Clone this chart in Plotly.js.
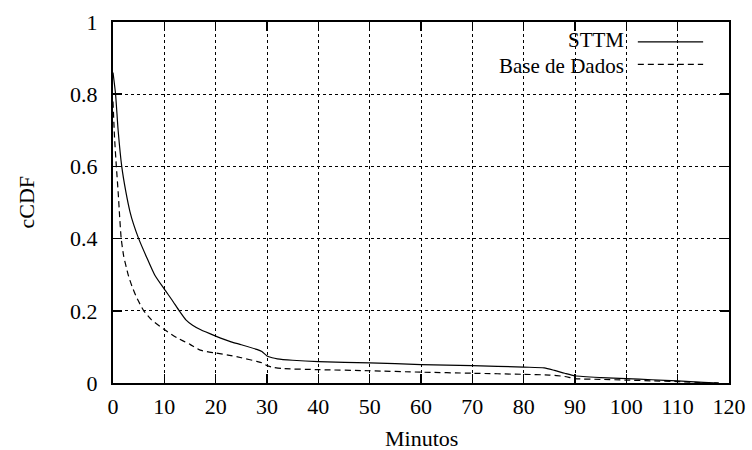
<!DOCTYPE html>
<html>
<head>
<meta charset="utf-8">
<script src="https://cdn.plot.ly/plotly-3.0.1.min.js"></script>
<style>html,body{margin:0;padding:0;background:#fff;}#chart{width:752px;height:450px;}</style>
</head>
<body>
<div id="chart"></div>
<script>
const seriesNames = ["STTM", "Base de Dados"];
const sttmMin = [0, 0.5, 1, 1.7, 2.5, 3.3, 4, 5, 6.5, 8.1, 10, 11.5, 12.9, 14.2, 15.5, 17, 20, 23, 25, 28, 29, 30, 31, 32, 35, 40, 50, 60, 70, 80, 84, 86, 88, 90, 95, 100, 105, 110, 115, 118];
const sttmCdf = [0.86, 0.8, 0.7, 0.6, 0.53, 0.475, 0.44, 0.4, 0.35, 0.30, 0.26, 0.23, 0.2, 0.175, 0.16, 0.148, 0.13, 0.114, 0.106, 0.093, 0.087, 0.075, 0.07, 0.067, 0.063, 0.059, 0.056, 0.051, 0.048, 0.044, 0.042, 0.035, 0.027, 0.02, 0.015, 0.012, 0.009, 0.006, 0.002, 0];
const dbMin = [0, 0.3, 0.65, 1, 1.3, 1.6, 2.1, 2.6, 3.05, 3.7, 4.5, 5.5, 6, 7.5, 10, 12.5, 15, 17, 20, 23, 25, 28, 29, 30, 31, 33, 40, 50, 60, 70, 80, 85, 88, 90, 95, 100, 105, 110, 115, 118];
const dbCdf = [0.78, 0.68, 0.6, 0.53, 0.46, 0.4, 0.35, 0.32, 0.295, 0.268, 0.24, 0.212, 0.2, 0.175, 0.148, 0.125, 0.107, 0.091, 0.083, 0.076, 0.07, 0.06, 0.056, 0.048, 0.044, 0.04, 0.037, 0.034, 0.030, 0.027, 0.024, 0.022, 0.018, 0.012, 0.01, 0.008, 0.006, 0.004, 0.001, 0];
const xTicks = [0, 10, 20, 30, 40, 50, 60, 70, 80, 90, 100, 110, 120];
const yTicks = [0, 0.2, 0.4, 0.6, 0.8, 1];
const yTickText = ["0", "0.2", "0.4", "0.6", "0.8", "1"];

const FONT = "Liberation Serif, DejaVu Serif, Times New Roman, serif";
const FS = 22;
const LFS = 21;

const traces = [
  {x: sttmMin, y: sttmCdf, name: seriesNames[0], mode: "lines", type: "scatter",
   line: {color: "#000", width: 1.2, shape: "spline", smoothing: 0.6}},
  {x: dbMin, y: dbCdf, name: seriesNames[1], mode: "lines", type: "scatter",
   line: {color: "#000", width: 1.2, dash: "6px,4px", shape: "spline", smoothing: 0.6}}
];

const axisCommon = {
  showline: true, linecolor: "#000", linewidth: 2, mirror: "ticks",
  ticks: "inside", ticklen: 9, tickwidth: 1.5, tickcolor: "#000",
  showgrid: true, gridcolor: "#000", gridwidth: 1, griddash: "dot",
  zeroline: false, tickfont: {family: FONT, size: FS, color: "#000"},
  fixedrange: true
};

const layout = {
  width: 752, height: 450,
  margin: {l: 113, r: 23, t: 22, b: 66.5},
  paper_bgcolor: "#fff", plot_bgcolor: "#fff",
  showlegend: false,
  font: {family: FONT, size: FS, color: "#000"},
  xaxis: Object.assign({}, axisCommon, {range: [0, 120], tickvals: xTicks, ticktext: xTicks.map(String), ticklabelstandoff: 3}),
  yaxis: Object.assign({}, axisCommon, {range: [0, 1], tickvals: yTicks, ticktext: yTickText, ticklabelstandoff: 9}),
  annotations: [
    {text: "cCDF", xref: "paper", yref: "paper", x: 0, y: 0.5, xanchor: "center", yanchor: "middle",
     xshift: -87, textangle: -90, showarrow: false, font: {family: FONT, size: FS, color: "#000"}},
    {text: "Minutos", xref: "paper", yref: "paper", x: 0.5, y: 0, xanchor: "center", yanchor: "middle",
     yshift: -55, showarrow: false, font: {family: FONT, size: FS, color: "#000"}},
    {text: seriesNames[0], xref: "paper", yref: "paper", x: 0.831, y: 0.9142, xanchor: "right", yanchor: "bottom",
     borderpad: 0, showarrow: false, font: {family: FONT, size: LFS, color: "#000"}},
    {text: seriesNames[1], xref: "paper", yref: "paper", x: 0.831, y: 0.9142, xanchor: "right", yanchor: "top",
     borderpad: 0, showarrow: false, font: {family: FONT, size: LFS, color: "#000"}}
  ],
  shapes: [
    {type: "line", xref: "paper", yref: "paper", x0: 0.852, x1: 0.958, y0: 0.9447, y1: 0.9447,
     line: {color: "#000", width: 1.2}},
    {type: "line", xref: "paper", yref: "paper", x0: 0.852, x1: 0.958, y0: 0.8825, y1: 0.8825,
     line: {color: "#000", width: 1.2, dash: "6px,4px"}}
  ]
};

Plotly.newPlot("chart", traces, layout, {displayModeBar: false, staticPlot: true});
</script>
</body>
</html>
